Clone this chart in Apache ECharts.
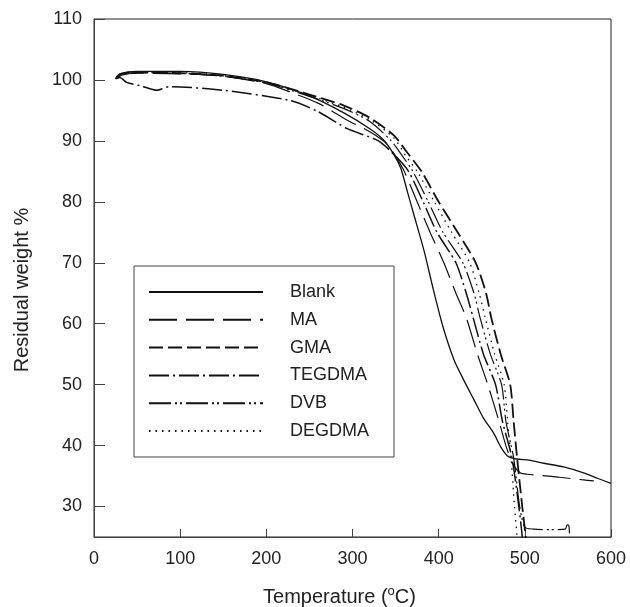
<!DOCTYPE html>
<html>
<head>
<meta charset="utf-8">
<script src="https://cdn.jsdelivr.net/npm/echarts@6/dist/echarts.min.js"></script>
<style>
  html, body { margin: 0; padding: 0; background: #fff; }
  #chart { width: 630px; height: 607px; }
</style>
</head>
<body>
<div id="chart"></div>
<script>
// TGA curves: temperature (°C) vs residual weight (%)
const seriesNames = ['Blank', 'MA', 'GMA', 'TEGDMA', 'DVB', 'DEGDMA'];
const yTicks = [30, 40, 50, 60, 70, 80, 90, 100, 110];

const blank = [[25,100.2],[30,101],[50,101.4],[100,101.4],[150,100.9],[200,99.7],[250,97.4],[290,94.6],[320,92],[335,90.3],[347,88],[356,85.5],[364,81.5],[371,78],[383,72],[394,65.5],[405,59.5],[418,54],[430,50.5],[441,47.5],[452,44.5],[464,42],[472,39.8],[480,38.3],[490,37.8],[505,37.6],[522,37.1],[545,36.5],[569,35.5],[585,34.6],[600,33.8]];
const ma = [[27,100.2],[32,100.8],[50,101.1],[100,101],[150,100.6],[200,99.4],[228,98],[260,96.2],[294,93.4],[320,91.5],[340,89.5],[350,87.5],[360,85],[375,80],[390,75],[406,70],[420,65],[432,61],[445,55],[457,50],[470,44],[478,40],[486,37],[495,35.5],[503,35.3],[527,35],[540,34.8],[566,34.4],[580,34.2]];
const gma = [[26,100.4],[31,101],[50,101.2],[100,101.1],[150,100.7],[200,99.6],[250,97.6],[290,95.8],[320,93.8],[348,90.9],[364,88],[380,85],[400,80],[422,75],[443,70],[455,65],[461,61],[472,55],[483,50],[487,44],[491,38],[497,30],[501,25],[503,20]];
const tegdma = [[25,100.2],[30,100.4],[38,99.6],[55,99],[73,98.3],[88,98.9],[150,98.3],[228,96.6],[260,94.8],[294,92],[330,90],[350,87.5],[365,85],[382,80],[398,75],[420,70],[432,65],[440,61],[452,55],[466,50],[474,44],[485,38],[493,30],[497,25],[499,20]];
const dvb = [[26,100.3],[31,101],[50,101.2],[100,101.1],[150,100.6],[200,99.5],[250,97.3],[290,95.3],[320,93.2],[345,90],[358,87.5],[370,85],[388,80],[405,75],[428,70],[441,65],[448,61],[460,55],[473,50],[478,44],[487,38],[494,30],[500,26.6],[510,26.3],[530,26.2],[547,26.3],[549,27],[551,26.9],[552,25],[553,20]];
const degdma = [[26,100.3],[31,101],[50,101.3],[100,101.2],[150,100.8],[200,99.6],[250,97.5],[290,95.5],[320,93.5],[348,90.5],[362,87.5],[375,85],[395,80],[415,75],[436,70],[447,65],[454,61],[465,55],[476,50],[480,44],[484,38],[488,30],[491,25],[492,20]];

const seriesData = [blank, ma, gma, tegdma, dvb, degdma];
const dashTypes = ['solid', [28, 9], [14, 5], [20, 4, 2, 4], [22, 4, 2, 3, 2, 4], [1.5, 5]];
const lineWidths = [1.3, 1.2, 1.8, 1.5, 1.2, 1.3];

const chart = echarts.init(document.getElementById('chart'));

chart.setOption({
    animation: false,
    backgroundColor: '#fff',
    textStyle: { fontFamily: 'Liberation Sans, Arial, sans-serif' },
    grid: {
        left: 94, right: 19, top: 19, bottom: 70,
        outerBoundsMode: 'none',
        show: true, borderColor: '#222', borderWidth: 1
    },
    legend: {
        orient: 'vertical',
        left: 134, top: 266,
        padding: [17, 25, 17, 14],
        itemWidth: 114, itemHeight: 14, itemGap: 9.8,
        borderColor: '#444', borderWidth: 1,
        itemStyle: { color: 'rgba(0,0,0,0)', borderWidth: 0, opacity: 0 },
        textStyle: { fontSize: 18, color: '#222', padding: [0, 0, 0, 22] },
        data: seriesNames
    },
    xAxis: {
        type: 'value', min: 0, max: 600, interval: 100,
        name: 'Temperature ({sup|o}C)',
        nameLocation: 'middle', nameGap: 48,
        nameTextStyle: {
            fontSize: 20, color: '#222', padding: [0, 26, 0, 0],
            rich: { sup: { fontSize: 13, color: '#222', padding: [0, 0, 12, 0] } }
        },
        axisLine: { lineStyle: { color: '#444', width: 1 } },
        axisTick: { inside: true, length: 8, lineStyle: { color: '#444' } },
        axisLabel: { fontSize: 18, color: '#222', margin: 13 },
        splitLine: { show: false }
    },
    yAxis: {
        type: 'value', min: 25, max: 110,
        name: 'Residual weight %',
        nameLocation: 'middle', nameGap: 62,
        nameTextStyle: { fontSize: 20, color: '#222', padding: [0, 24, 0, 0] },
        axisLine: { show: true, lineStyle: { color: '#444', width: 1 } },
        axisTick: { show: true, inside: true, length: 11, customValues: yTicks, lineStyle: { color: '#444' } },
        axisLabel: { fontSize: 18, color: '#222', margin: 12, customValues: yTicks },
        splitLine: { show: false }
    },
    series: seriesNames.map((name, i) => ({
        name: name,
        type: 'line',
        data: seriesData[i],
        symbol: 'none',
        smooth: 0.25,
        clip: true,
        lineStyle: { color: '#111', width: lineWidths[i], type: dashTypes[i] },
        itemStyle: { color: '#111' }
    }))
});
</script>
</body>
</html>
